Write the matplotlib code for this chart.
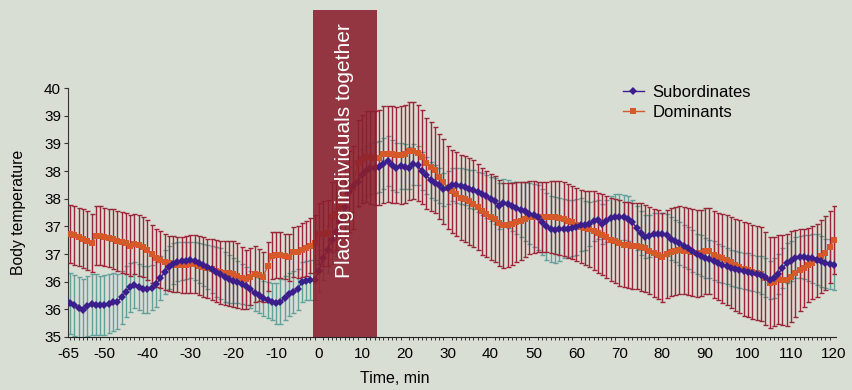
import numpy as np
import matplotlib
matplotlib.use("Agg")
import matplotlib.pyplot as plt
from matplotlib.ticker import MultipleLocator

plt.rcParams['font.family'] = ['Liberation Sans', 'DejaVu Sans']

# one reading per minute, -58 .. 120
minutes = np.arange(-58, 121)

sub_mean = [
    35.61, 35.57, 35.53, 35.49, 35.56, 35.59, 35.58, 35.57, 35.58, 35.60,
    35.63, 35.64, 35.72, 35.82, 35.90, 35.94, 35.90, 35.86, 35.86, 35.89,
    35.95, 36.06, 36.17, 36.26, 36.32, 36.36, 36.37, 36.38, 36.39, 36.37,
    36.33, 36.30, 36.27, 36.22, 36.18, 36.14, 36.09, 36.05, 36.02, 35.99,
    35.96, 35.92, 35.86, 35.80, 35.75, 35.70, 35.67, 35.64, 35.61, 35.64,
    35.70, 35.77, 35.82, 35.86, 35.99, 36.02, 36.03, 36.03, 36.20, 36.43,
    36.58, 36.75, 36.90, 37.08, 37.35, 37.62, 37.72, 37.81, 37.93, 38.00,
    38.05, 38.06, 38.08, 38.13, 38.18, 38.11, 38.06, 38.09, 38.08, 38.05,
    38.12, 38.10, 38.00, 37.92, 37.84, 37.79, 37.74, 37.67, 37.70, 37.75,
    37.74, 37.73, 37.71, 37.68, 37.66, 37.62, 37.58, 37.54, 37.50, 37.46,
    37.37, 37.43, 37.40, 37.36, 37.33, 37.30, 37.27, 37.23, 37.20, 37.16,
    37.08, 37.00, 36.95, 36.93, 36.95, 36.96, 36.96, 36.97, 36.99, 37.03,
    37.02, 37.04, 37.10, 37.12, 37.04, 37.10, 37.15, 37.17, 37.17, 37.16,
    37.14, 37.08, 36.97, 36.88, 36.81, 36.82, 36.86, 36.87, 36.87, 36.84,
    36.78, 36.73, 36.69, 36.65, 36.61, 36.55, 36.50, 36.47, 36.43, 36.41,
    36.38, 36.34, 36.31, 36.28, 36.25, 36.23, 36.21, 36.19, 36.18, 36.16,
    36.14, 36.12, 36.08, 36.03, 36.06, 36.14, 36.24, 36.33, 36.38, 36.43,
    36.45, 36.44, 36.43, 36.42, 36.40, 36.37, 36.33, 36.32, 36.30,
]
sub_err = [
    0.55, 0.55, 0.55, 0.55, 0.55, 0.55, 0.55, 0.54, 0.54, 0.53,
    0.52, 0.50, 0.48, 0.46, 0.44, 0.42, 0.42, 0.42, 0.42, 0.41,
    0.41, 0.40, 0.40, 0.39, 0.37, 0.35, 0.34, 0.33, 0.33, 0.34,
    0.36, 0.38, 0.40, 0.43, 0.45, 0.46, 0.45, 0.43, 0.41, 0.38,
    0.36, 0.35, 0.34, 0.33, 0.32, 0.32, 0.32, 0.34, 0.37, 0.40,
    0.40, 0.39, 0.38, 0.37, 0.36, 0.36, 0.36, 0.36, 0.38, 0.40,
    0.42, 0.43, 0.44, 0.45, 0.46, 0.46, 0.46, 0.46, 0.46, 0.46,
    0.46, 0.46, 0.46, 0.46, 0.46, 0.45, 0.44, 0.42, 0.40, 0.38,
    0.37, 0.36, 0.35, 0.34, 0.33, 0.32, 0.31, 0.30, 0.30, 0.30,
    0.31, 0.32, 0.33, 0.34, 0.35, 0.36, 0.38, 0.39, 0.40, 0.41,
    0.42, 0.42, 0.43, 0.45, 0.47, 0.50, 0.53, 0.55, 0.57, 0.58,
    0.59, 0.60, 0.60, 0.60, 0.57, 0.54, 0.52, 0.50, 0.50, 0.48,
    0.44, 0.40, 0.36, 0.35, 0.36, 0.38, 0.40, 0.41, 0.41, 0.41,
    0.41, 0.40, 0.40, 0.39, 0.39, 0.38, 0.38, 0.38, 0.38, 0.38,
    0.38, 0.38, 0.38, 0.38, 0.38, 0.38, 0.37, 0.37, 0.36, 0.35,
    0.35, 0.34, 0.34, 0.33, 0.33, 0.33, 0.33, 0.33, 0.33, 0.33,
    0.33, 0.34, 0.35, 0.35, 0.36, 0.36, 0.36, 0.36, 0.36, 0.37,
    0.38, 0.40, 0.42, 0.44, 0.46, 0.46, 0.45, 0.45, 0.45,
]
dom_mean = [
    36.86, 36.84, 36.81, 36.78, 36.74, 36.70, 36.83, 36.83, 36.81, 36.79,
    36.77, 36.74, 36.71, 36.69, 36.65, 36.68, 36.66, 36.62, 36.57, 36.50,
    36.43, 36.40, 36.36, 36.33, 36.32, 36.31, 36.30, 36.31, 36.32, 36.32,
    36.29, 36.26, 36.24, 36.22, 36.19, 36.17, 36.16, 36.15, 36.14, 36.11,
    36.06, 36.04, 36.09, 36.14, 36.12, 36.08, 36.28, 36.47, 36.48, 36.48,
    36.46, 36.44, 36.53, 36.54, 36.57, 36.60, 36.65, 36.69, 36.87, 36.87,
    36.88, 37.17, 37.22, 37.36, 37.45, 37.63, 37.70, 38.14, 38.22, 38.26,
    38.25, 38.23, 38.24, 38.30, 38.31, 38.30, 38.29, 38.29, 38.31, 38.36,
    38.37, 38.32, 38.26, 38.14, 38.08, 38.02, 37.90, 37.81, 37.70, 37.63,
    37.58, 37.52, 37.49, 37.45, 37.41, 37.35, 37.27, 37.22, 37.17, 37.13,
    37.06, 37.02, 37.03, 37.05, 37.08, 37.10, 37.13, 37.16, 37.17, 37.17,
    37.17, 37.17, 37.17, 37.16, 37.15, 37.13, 37.10, 37.07, 37.03, 36.99,
    36.97, 36.95, 36.92, 36.88, 36.85, 36.80, 36.76, 36.73, 36.70, 36.67,
    36.66, 36.65, 36.64, 36.63, 36.60, 36.56, 36.52, 36.49, 36.44, 36.50,
    36.54, 36.55, 36.57, 36.56, 36.55, 36.53, 36.51, 36.52, 36.55, 36.55,
    36.49, 36.45, 36.42, 36.39, 36.35, 36.30, 36.27, 36.23, 36.21, 36.18,
    36.15, 36.14, 36.06, 35.98, 36.00, 36.04, 36.03, 36.03, 36.09, 36.15,
    36.21, 36.25, 36.30, 36.34, 36.39, 36.46, 36.52, 36.63, 36.75,
]
dom_err = [
    0.53, 0.53, 0.53, 0.53, 0.53, 0.53, 0.53, 0.53, 0.53, 0.53,
    0.54, 0.54, 0.55, 0.55, 0.55, 0.55, 0.55, 0.54, 0.54, 0.53,
    0.53, 0.52, 0.51, 0.50, 0.50, 0.50, 0.50, 0.51, 0.52, 0.53,
    0.53, 0.54, 0.54, 0.55, 0.56, 0.57, 0.58, 0.59, 0.60, 0.58,
    0.56, 0.54, 0.52, 0.50, 0.47, 0.45, 0.44, 0.43, 0.42, 0.41,
    0.41, 0.42, 0.45, 0.47, 0.49, 0.50, 0.50, 0.51, 0.55, 0.58,
    0.60, 0.63, 0.65, 0.68, 0.70, 0.73, 0.75, 0.78, 0.80, 0.82,
    0.84, 0.85, 0.86, 0.87, 0.87, 0.87, 0.87, 0.88, 0.88, 0.88,
    0.88, 0.87, 0.85, 0.82, 0.80, 0.78, 0.77, 0.76, 0.75, 0.75,
    0.76, 0.77, 0.78, 0.78, 0.78, 0.78, 0.78, 0.78, 0.78, 0.78,
    0.77, 0.77, 0.76, 0.74, 0.72, 0.70, 0.68, 0.66, 0.65, 0.64,
    0.64, 0.64, 0.65, 0.66, 0.67, 0.67, 0.67, 0.66, 0.66, 0.66,
    0.67, 0.69, 0.71, 0.72, 0.73, 0.74, 0.75, 0.76, 0.77, 0.77,
    0.78, 0.78, 0.78, 0.79, 0.79, 0.79, 0.80, 0.80, 0.80, 0.80,
    0.80, 0.80, 0.80, 0.79, 0.79, 0.79, 0.78, 0.78, 0.78, 0.78,
    0.79, 0.79, 0.80, 0.81, 0.82, 0.83, 0.84, 0.85, 0.85, 0.85,
    0.85, 0.85, 0.84, 0.82, 0.81, 0.81, 0.82, 0.83, 0.82, 0.78,
    0.74, 0.70, 0.67, 0.66, 0.66, 0.66, 0.67, 0.65, 0.62,
]

# the left-most label in the original reads -65 although the data start later
xtick_pos = [-58.5, -50, -40, -30, -20, -10, 0, 10, 20, 30, 40, 50, 60, 70, 80, 90, 100, 110, 120]
xtick_labels = ['-65', '-50', '-40', '-30', '-20', '-10', '0', '10', '20', '30',
                '40', '50', '60', '70', '80', '90', '100', '110', '120']
ytick_pos = [35, 35.5, 36, 36.5, 37, 37.5, 38, 38.5, 39, 39.5]
ytick_labels = ['35', '36', '36', '37', '37', '38', '38', '39', '39', '40']

box_start, box_end = -1.5, 13.5

bg = '#d9ded5'
purple = '#3b1d8c'
orange = '#d6592a'
teal = '#62a09b'
red = '#9a2536'
box_red = '#8b1f2d'

fig = plt.figure(figsize=(8.53, 3.9), dpi=100, facecolor=bg)
ax = fig.add_axes([0.0797, 0.1359, 0.9004, 0.8385], facecolor=bg)

ax.errorbar(minutes, sub_mean, yerr=sub_err, fmt='none', ecolor=teal,
            elinewidth=1, capsize=1.8, capthick=1, zorder=2)
ax.errorbar(minutes, dom_mean, yerr=dom_err, fmt='none', ecolor=red,
            elinewidth=1, capsize=1.8, capthick=1, zorder=3)
l_dom, = ax.plot(minutes, dom_mean, color=orange, marker='s', ms=5, mew=0,
                 lw=1, zorder=4, label='Dominants')
l_sub, = ax.plot(minutes, sub_mean, color=purple, marker='D', ms=3.8, mew=0,
                 lw=1, zorder=5, label='Subordinates')

ax.axvspan(box_start, box_end, color=box_red, alpha=0.88, lw=0, zorder=6)
ax.text((box_start + box_end) / 2, 38.36, 'Placing individuals together',
        rotation=90, ha='center', va='center', color='white', fontsize=15, zorder=7)

ax.set_xlim(-58.5, 120.5)
ax.set_ylim(35, 40.91)

for s in ['top', 'right']:
    ax.spines[s].set_visible(False)
ax.spines['left'].set_bounds(35, 39.5)
ax.spines['left'].set_color('#333333')
ax.spines['bottom'].set_color('#222222')

ax.set_xticks(xtick_pos)
ax.set_xticklabels(xtick_labels, fontsize=11)
ax.xaxis.set_minor_locator(MultipleLocator(1))
ax.tick_params(axis='x', which='major', length=0, pad=7)
ax.tick_params(axis='x', which='minor', length=2, width=0.7, color='#333333')
ax.set_yticks(ytick_pos)
ax.set_yticklabels(ytick_labels, fontsize=11)
ax.tick_params(axis='y', length=3, width=0.8, pad=2, color='#333333')

ax.set_ylabel('Body temperature', fontsize=11.3)
ax.yaxis.set_label_coords(-0.055, 0.381)
ax.set_xlabel('Time, min', fontsize=11.5)
ax.xaxis.set_label_coords(0.426, -0.105)

ax.legend(handles=[l_sub, l_dom], loc='upper left', bbox_to_anchor=(0.722, 0.771),
          frameon=False, fontsize=12, borderpad=0, borderaxespad=0,
          handlelength=1.3, handletextpad=0.5, labelspacing=0.3)

plt.savefig('out.png', dpi=100, facecolor=bg)
